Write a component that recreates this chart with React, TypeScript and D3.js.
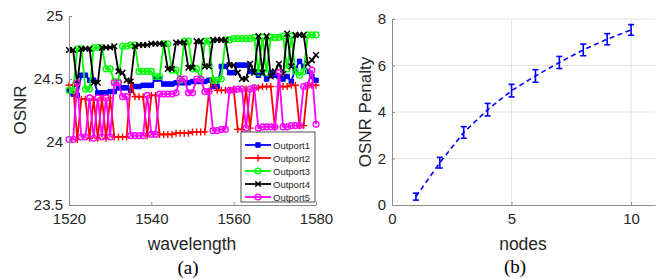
import React, { useRef, useEffect } from 'react';
import { select, axisBottom, axisLeft, scaleLinear, line, symbol, symbolSquare, symbolCircle } from 'd3';

const wavelengths = [1520,1521,1522,1523,1524,1525,1526,1527,1528,1529,1530,1531,1532,1533,1534,1535,1536,1537,1538,1539,1540,1541,1542,1543,1544,1545,1546,1547,1548,1549,1550,1551,1552,1553,1554,1555,1556,1557,1558,1559,1560,1561,1562,1563,1564,1565,1566,1567,1568,1569,1570,1571,1572,1573,1574,1575,1576,1577,1578,1579,1580];

const outport1 = [24.41,24.38,24.37,24.53,24.53,24.49,24.49,24.39,24.39,24.39,24.40,24.40,24.43,24.43,24.43,24.41,24.44,24.44,24.45,24.45,24.45,24.50,24.50,24.46,24.46,24.46,24.47,24.47,24.47,24.47,24.48,24.48,24.48,24.48,24.49,24.44,24.44,24.60,24.60,24.55,24.55,24.61,24.61,24.61,24.56,24.56,24.53,24.55,24.50,24.55,24.53,24.52,24.50,24.52,24.48,24.58,24.64,24.60,24.56,24.52,24.49];
const outport2 = [24.45,24.45,24.02,24.34,24.34,24.03,24.34,24.03,24.35,24.03,24.35,24.04,24.04,24.04,24.04,24.47,24.36,24.36,24.36,24.05,24.37,24.37,24.06,24.06,24.06,24.06,24.07,24.07,24.07,24.07,24.08,24.08,24.08,24.08,24.40,24.50,24.41,24.41,24.41,24.41,24.42,24.10,24.10,24.42,24.11,24.43,24.43,24.44,24.44,24.44,24.12,24.44,24.44,24.44,24.45,24.45,24.13,24.13,24.45,24.45,24.45];
const outport3 = [24.41,24.41,24.74,24.74,24.42,24.42,24.75,24.75,24.75,24.58,24.58,24.48,24.48,24.76,24.76,24.77,24.77,24.56,24.56,24.56,24.56,24.52,24.52,24.78,24.78,24.57,24.57,24.49,24.80,24.80,24.58,24.58,24.50,24.80,24.80,24.49,24.49,24.50,24.81,24.81,24.82,24.82,24.82,24.82,24.82,24.83,24.55,24.83,24.55,24.83,24.83,24.83,24.84,24.58,24.84,24.56,24.53,24.56,24.85,24.85,24.85];
const outport4 = [24.73,24.73,24.46,24.74,24.74,24.74,24.47,24.47,24.75,24.75,24.75,24.76,24.56,24.55,24.49,24.48,24.76,24.77,24.77,24.77,24.78,24.78,24.78,24.78,24.58,24.58,24.79,24.79,24.79,24.59,24.59,24.80,24.80,24.60,24.60,24.81,24.81,24.81,24.81,24.61,24.61,24.55,24.50,24.50,24.62,24.55,24.84,24.55,24.84,24.52,24.56,24.62,24.54,24.86,24.60,24.85,24.85,24.85,24.62,24.65,24.69];
const outport5 = [24.02,24.02,24.47,24.04,24.04,24.35,24.03,24.35,24.04,24.35,24.04,24.47,24.47,24.36,24.36,24.05,24.05,24.05,24.05,24.37,24.06,24.06,24.38,24.38,24.38,24.38,24.39,24.50,24.50,24.39,24.39,24.50,24.50,24.40,24.40,24.09,24.09,24.10,24.10,24.41,24.41,24.42,24.42,24.11,24.42,24.43,24.11,24.12,24.12,24.12,24.12,24.55,24.12,24.12,24.13,24.13,24.13,24.44,24.45,24.57,24.14];

const seriesNames = ['Outport1', 'Outport2', 'Outport3', 'Outport4', 'Outport5'];

const nodes = [1, 2, 3, 4, 5, 6, 7, 8, 9, 10];
const penalty = [0.36, 1.82, 3.12, 4.1, 4.92, 5.55, 6.13, 6.67, 7.13, 7.53];
const penaltyErr = [0.15, 0.23, 0.25, 0.27, 0.27, 0.27, 0.26, 0.25, 0.24, 0.23];

const FONT = '"Liberation Sans", Arial, Helvetica, sans-serif';
const SERIF = '"Liberation Serif", "Times New Roman", serif';
const AXIS_GRAY = '#8c8c8c';
const TEXT = '#262626';

// marker style per outport
const styles = [
  { color: '#0000ff', kind: 'square' },
  { color: '#ff0000', kind: 'plus' },
  { color: '#00ff00', kind: 'circle' },
  { color: '#000000', kind: 'x' },
  { color: '#ff00ff', kind: 'circle' },
];

function drawMarker(g, st, x, y) {
  if (st.kind === 'plus') {
    g.append('path').attr('d', `M${x - 3.5},${y}H${x + 3.5}M${x},${y - 3.5}V${y + 3.5}`)
      .attr('stroke', st.color).attr('stroke-width', 1.4).attr('fill', 'none');
  } else if (st.kind === 'x') {
    g.append('path').attr('d', `M${x - 2.8},${y - 2.8}L${x + 2.8},${y + 2.8}M${x - 2.8},${y + 2.8}L${x + 2.8},${y - 2.8}`)
      .attr('stroke', st.color).attr('stroke-width', 1.5).attr('fill', 'none');
  } else if (st.kind === 'square') {
    g.append('path')
      .attr('transform', `translate(${x},${y})`)
      .attr('d', symbol(symbolSquare, 20)())
      .attr('fill', st.color).attr('stroke', st.color).attr('stroke-width', 1);
  } else {
    g.append('path')
      .attr('transform', `translate(${x},${y})`)
      .attr('d', symbol(symbolCircle, 26)())
      .attr('fill', 'none').attr('stroke', st.color).attr('stroke-width', 1.4);
  }
}

function styleAxis(g) {
  g.select('.domain').attr('stroke', AXIS_GRAY).attr('stroke-width', 1);
  g.selectAll('.tick line').attr('stroke', AXIS_GRAY);
  g.selectAll('.tick text').attr('fill', TEXT).attr('font-size', 15).attr('font-family', FONT);
}

export default function App() {
  const svgRef = useRef(null);

  useEffect(() => {
    const svg = select(svgRef.current);
    svg.selectAll('*').remove();

    // ---------- (a) OSNR vs wavelength ----------
    const xA = scaleLinear().domain([1520, 1580]).range([69, 316]);
    const yA = scaleLinear().domain([23.5, 25]).range([205, 16]);

    const plotA = svg.append('g');
    const all = [outport1, outport2, outport3, outport4, outport5];

    all.forEach((vals, si) => {
      const st = styles[si];
      const pts = vals.map((v, i) => [xA(wavelengths[i]), yA(v)]);
      plotA.append('path')
        .attr('d', line()(pts))
        .attr('fill', 'none')
        .attr('stroke', st.color)
        .attr('stroke-width', 1.8);
      const mg = plotA.append('g');
      pts.forEach(([x, y]) => drawMarker(mg, st, x, y));
    });

    const axA_x = svg.append('g')
      .attr('transform', 'translate(0,205)')
      .call(axisBottom(xA).tickValues([1520, 1540, 1560, 1580]).tickFormat(d => String(d)).tickSizeInner(-3).tickSizeOuter(0).tickPadding(8));
    styleAxis(axA_x);
    const axA_y = svg.append('g')
      .attr('transform', 'translate(69,0)')
      .call(axisLeft(yA).tickValues([23.5, 24, 24.5, 25]).tickFormat(d => String(d)).tickSizeInner(-3).tickSizeOuter(0).tickPadding(6));
    styleAxis(axA_y);

    svg.append('text')
      .attr('x', 192).attr('y', 250)
      .attr('text-anchor', 'middle')
      .attr('font-family', FONT).attr('font-size', 17.5).attr('fill', TEXT)
      .text('wavelength');
    svg.append('text')
      .attr('transform', 'translate(26,110) rotate(-90)')
      .attr('text-anchor', 'middle')
      .attr('font-family', FONT).attr('font-size', 17).attr('fill', TEXT)
      .text('OSNR');
    svg.append('text')
      .attr('x', 188).attr('y', 274)
      .attr('text-anchor', 'middle')
      .attr('font-family', SERIF).attr('font-size', 19).attr('fill', '#000')
      .text('(a)');

    // legend
    const leg = svg.append('g');
    leg.append('rect')
      .attr('x', 241).attr('y', 132).attr('width', 74).attr('height', 70)
      .attr('fill', '#fff').attr('stroke', '#262626').attr('stroke-width', 0.8);
    seriesNames.forEach((name, i) => {
      const st = styles[i];
      const y = 145 + i * 13;
      leg.append('line')
        .attr('x1', 245).attr('x2', 271).attr('y1', y).attr('y2', y)
        .attr('stroke', st.color).attr('stroke-width', 1.8);
      drawMarker(leg, st, 258, y);
      leg.append('text')
        .attr('x', 273).attr('y', y + 3.5)
        .attr('font-family', FONT).attr('font-size', 9.5).attr('fill', TEXT)
        .text(name);
    });

    // ---------- (b) OSNR penalty vs nodes ----------
    const xB = scaleLinear().domain([0, 11]).range([392, 655]);
    const yB = scaleLinear().domain([0, 8]).range([205, 19]);

    const grid = svg.append('g');
    [5, 10].forEach(v => {
      grid.append('line')
        .attr('x1', xB(v)).attr('x2', xB(v)).attr('y1', yB(0)).attr('y2', yB(8))
        .attr('stroke', '#e3e3e3').attr('stroke-width', 1);
    });
    [2, 4, 6, 8].forEach(v => {
      grid.append('line')
        .attr('x1', xB(0)).attr('x2', xB(11)).attr('y1', yB(v)).attr('y2', yB(v))
        .attr('stroke', '#e3e3e3').attr('stroke-width', 1);
    });

    const axB_x = svg.append('g')
      .attr('transform', 'translate(0,205)')
      .call(axisBottom(xB).tickValues([0, 5, 10]).tickFormat(d => String(d)).tickSizeInner(-3).tickSizeOuter(0).tickPadding(8));
    styleAxis(axB_x);
    const axB_y = svg.append('g')
      .attr('transform', 'translate(392,0)')
      .call(axisLeft(yB).tickValues([0, 2, 4, 6, 8]).tickFormat(d => String(d)).tickSizeInner(-3).tickSizeOuter(0).tickPadding(6));
    styleAxis(axB_y);

    const blue = '#0000ff';
    svg.append('path')
      .attr('d', line()(nodes.map((n, i) => [xB(n), yB(penalty[i])])))
      .attr('fill', 'none')
      .attr('stroke', blue)
      .attr('stroke-width', 1.6)
      .attr('stroke-dasharray', '5,3.5');
    const eb = svg.append('g').attr('stroke', blue).attr('stroke-width', 1.6);
    nodes.forEach((n, i) => {
      const x = xB(n);
      const y0 = yB(penalty[i] - penaltyErr[i]);
      const y1 = yB(penalty[i] + penaltyErr[i]);
      eb.append('line').attr('x1', x).attr('x2', x).attr('y1', y0).attr('y2', y1);
      eb.append('line').attr('x1', x - 3).attr('x2', x + 3).attr('y1', y0).attr('y2', y0);
      eb.append('line').attr('x1', x - 3).attr('x2', x + 3).attr('y1', y1).attr('y2', y1);
    });

    svg.append('text')
      .attr('x', 523).attr('y', 250)
      .attr('text-anchor', 'middle')
      .attr('font-family', FONT).attr('font-size', 17.5).attr('fill', TEXT)
      .text('nodes');
    svg.append('text')
      .attr('transform', 'translate(371,112) rotate(-90)')
      .attr('text-anchor', 'middle')
      .attr('font-family', FONT).attr('font-size', 17).attr('fill', TEXT)
      .text('OSNR Penalty');
    svg.append('text')
      .attr('x', 515).attr('y', 273)
      .attr('text-anchor', 'middle')
      .attr('font-family', SERIF).attr('font-size', 19).attr('fill', '#000')
      .text('(b)');
  }, []);

  return (
    <svg ref={svgRef} width={656} height={278}
      style={{ position: 'absolute', left: 0, top: 0, background: '#fff' }} />
  );
}
